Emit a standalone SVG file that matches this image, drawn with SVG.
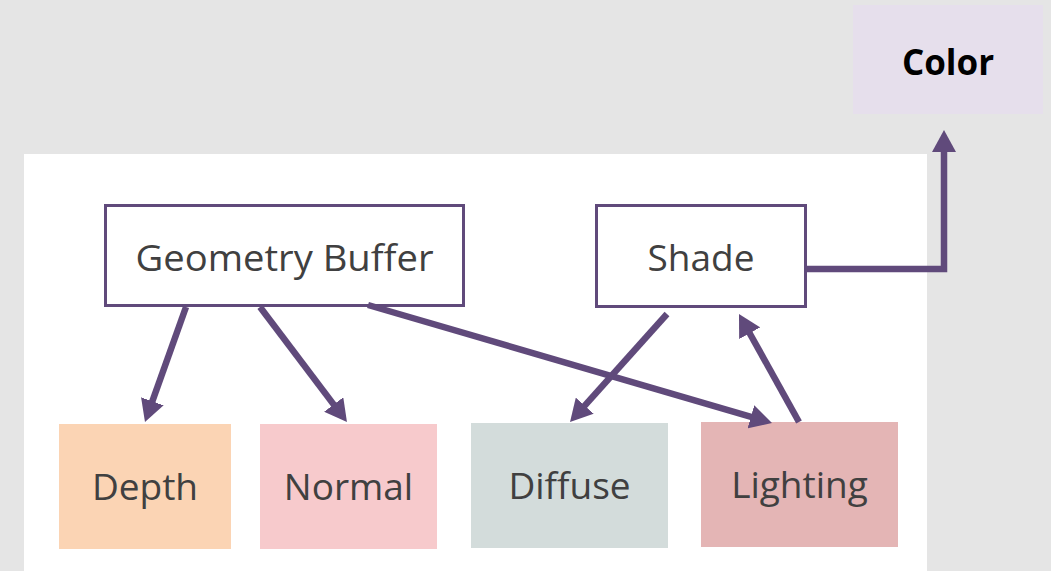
<svg xmlns="http://www.w3.org/2000/svg" width="1051" height="571" viewBox="0 0 1051 571">
<style>
.lbl{font-family:"Open Sans","Liberation Sans",sans-serif;font-size:37px;fill:#404040;text-anchor:middle}
.bold{font-family:"Open Sans","Liberation Sans",sans-serif;font-size:35px;font-weight:bold;fill:#000;text-anchor:middle}
.box{fill:#fff;stroke:#604a7b;stroke-width:3}
.conn{stroke:#604a7b;stroke-width:6.5;fill:none}
</style>
<defs>
<marker id="ah" markerUnits="userSpaceOnUse" markerWidth="22" markerHeight="24" viewBox="0 0 22 24" refX="2" refY="12" orient="auto">
<path d="M0,0 L22,12 L0,24 Z" fill="#604a7b"/>
</marker>
</defs>
<rect x="0" y="0" width="1051" height="571" fill="#e5e5e5"/>
<rect x="24" y="154" width="903" height="417" fill="#fff"/>
<g id="color"><rect x="853" y="5" width="190" height="109" fill="#e6dfec"/><text class="bold" x="948" y="75">Color</text></g>
<g id="gbuffer"><rect class="box" x="105.5" y="205.5" width="358" height="100"/><text class="lbl" x="284.5" y="271" textLength="298" lengthAdjust="spacingAndGlyphs">Geometry Buffer</text></g>
<g id="shade"><rect class="box" x="596.5" y="205.5" width="209" height="101"/><text class="lbl" x="701" y="271">Shade</text></g>
<g id="depth"><rect x="59" y="424" width="172" height="125" fill="#fbd4b4"/><text class="lbl" x="145" y="500">Depth</text></g>
<g id="normal"><rect x="260" y="424" width="177" height="125" fill="#f7cacc"/><text class="lbl" x="348.5" y="500">Normal</text></g>
<g id="diffuse"><rect x="471" y="423" width="197" height="125" fill="#d3dcdb"/><text class="lbl" x="569.5" y="499">Diffuse</text></g>
<g id="lighting"><rect x="701" y="422" width="197" height="125" fill="#e4b5b5"/><text class="lbl" x="799.5" y="498">Lighting</text></g>
<g id="connectors">
<line class="conn" x1="186" y1="307" x2="151.7" y2="403.2" marker-end="url(#ah)"/>
<line class="conn" x1="260" y1="307" x2="334.9" y2="406.1" marker-end="url(#ah)"/>
<line class="conn" x1="368" y1="305" x2="752.8" y2="417.4" marker-end="url(#ah)"/>
<line class="conn" x1="667" y1="314" x2="583.4" y2="407.1" marker-end="url(#ah)"/>
<line class="conn" x1="799" y1="422" x2="748.7" y2="331.5" marker-end="url(#ah)"/>
<path class="conn" d="M807,269 H944 V150" marker-end="url(#ah)"/>
</g>
</svg>
